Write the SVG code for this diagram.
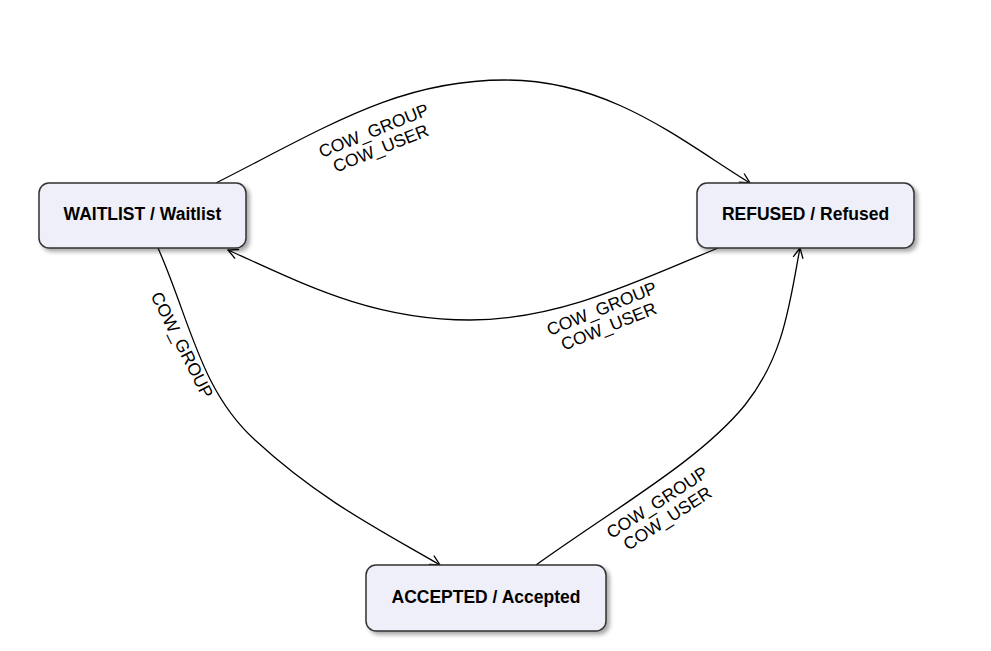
<svg xmlns="http://www.w3.org/2000/svg" width="991" height="651" viewBox="0 0 991 651">
<style>
.node rect{fill:#efeff9;stroke:#333333;stroke-width:1.5}
.node text{font-family:"Liberation Sans",Arial,sans-serif;font-weight:bold;font-size:17.5px;fill:#000;text-anchor:middle}
.edge{fill:none;stroke:#000;stroke-width:1.3;marker-end:url(#arr)}
.lbl{font-family:"Liberation Sans",Arial,sans-serif;font-size:17.5px;fill:#000;text-anchor:middle}
</style>
<defs>
<filter id="sh" x="-10%" y="-20%" width="130%" height="150%">
<feDropShadow dx="3" dy="3" stdDeviation="2" flood-color="#000" flood-opacity="0.35"/>
</filter>
<marker id="arr" viewBox="0 0 12 12" refX="11" refY="6" markerWidth="12" markerHeight="12" markerUnits="userSpaceOnUse" orient="auto">
<path d="M1,1 L11,6 L1,11" fill="none" stroke="#000" stroke-width="1.3"/>
</marker>
</defs>
<rect width="991" height="651" fill="#fff"/>
<g id="connectors">
<path class="edge" d="M216,183 C330,125 400,80 505,80 C610,80 680,140 750,183"/>
<path class="edge" d="M718,248 C640,280 560,320 470,320 C370,320 300,282 228,250"/>
<path class="edge" d="M158,248 C190,320 200,390 255,440 C320,500 380,530 440,565"/>
<path class="edge" d="M536,565 C620,505 700,460 745,405 C785,355 790,300 800,248"/>
<g transform="translate(377,139) rotate(-22)"><text class="lbl" y="-3">COW_GROUP</text><text class="lbl" y="16">COW_USER</text></g>
<g transform="translate(605,317) rotate(-22)"><text class="lbl" y="-3">COW_GROUP</text><text class="lbl" y="16">COW_USER</text></g>
<g transform="translate(662,510) rotate(-33)"><text class="lbl" y="-3">COW_GROUP</text><text class="lbl" y="16">COW_USER</text></g>
<g transform="translate(182,345) rotate(63)"><text class="lbl" y="6">COW_GROUP</text></g>
</g>
<g id="waitlist" class="node"><rect x="39" y="183" width="207" height="65" rx="10" filter="url(#sh)"/><text x="142.5" y="220">WAITLIST / Waitlist</text></g>
<g id="refused" class="node"><rect x="697" y="183" width="217" height="65" rx="10" filter="url(#sh)"/><text x="805.5" y="220">REFUSED / Refused</text></g>
<g id="accepted" class="node"><rect x="366" y="565" width="240" height="66" rx="10" filter="url(#sh)"/><text x="486" y="603">ACCEPTED / Accepted</text></g>
</svg>
